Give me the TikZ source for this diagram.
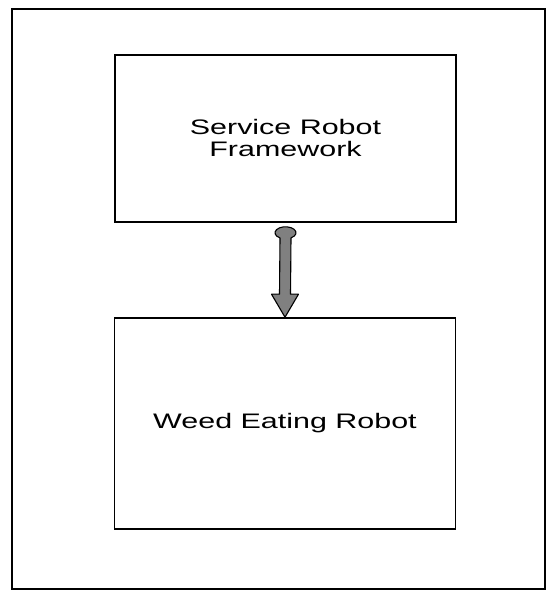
\documentclass[tikz,border=0pt]{standalone}
\usepackage{fontspec}
\setmainfont{Liberation Sans}[FakeStretch=1.45]
\usepackage{tikz}
\usetikzlibrary{arrows.meta, positioning, calc}
\definecolor{arrowgray}{gray}{0.5}

\begin{document}
\begin{tikzpicture}[
    x=1pt, y=1pt,
    frame/.style={draw, line width=1.2pt, minimum width=533pt, minimum height=580pt, inner sep=0pt},
    box/.style={draw, line width=1.6pt, align=center, minimum width=341pt, inner sep=0pt, font=\fontsize{21}{22}\selectfont},
    link/.style={fill=arrowgray, draw=black, line width=1.1pt, line join=round}
]
\useasboundingbox (0,0) rectangle (546,591);
\node[frame] (frame) at (278.5,292) {};
\node[box, minimum height=167pt] (robotfw) at (285.5,452.5) {Service Robot\\Framework};
\node[box, minimum height=211pt] (weedbot) at (285,167.5) {Weed Eating Robot};

% knob on top, shaft, triangular head
\filldraw[link] ($(robotfw.south)+(-5.5,-15.1)$)
    arc[start angle=238.4, end angle=-58.4, x radius=10.5, y radius=6]
    -- ($(weedbot.north)+(5.5,23)$) -- ($(weedbot.north)+(13.5,23)$)
    -- (weedbot.north)
    -- ($(weedbot.north)+(-13.5,23)$) -- ($(weedbot.north)+(-5.5,23)$) -- cycle;
\end{tikzpicture}
\end{document}
